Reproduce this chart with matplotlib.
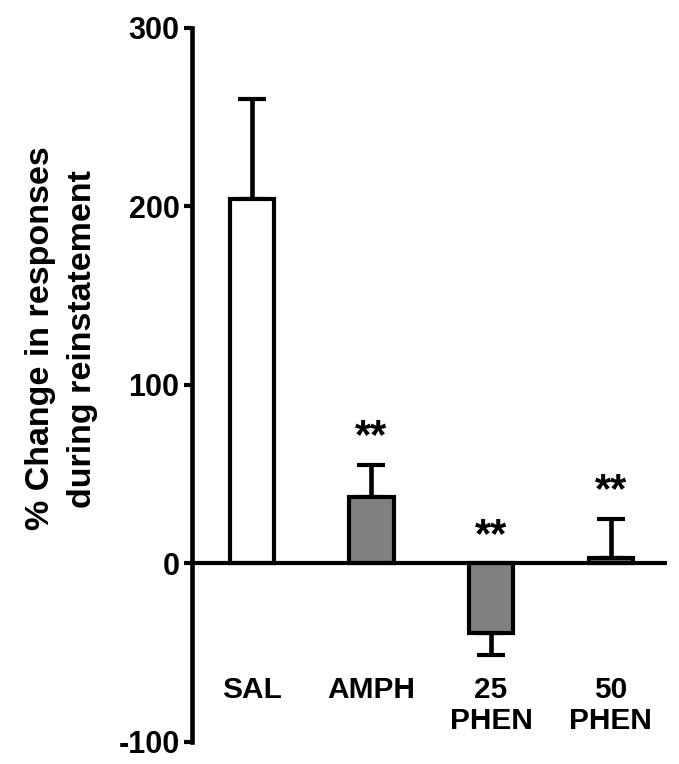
import numpy as np
import matplotlib
matplotlib.use('Agg')
import matplotlib.pyplot as plt

plt.rcParams['font.family'] = ['Liberation Sans', 'DejaVu Sans']
plt.rcParams['font.weight'] = 'bold'
plt.rcParams['axes.unicode_minus'] = False

groups = ['SAL', 'AMPH', '25\nPHEN', '50\nPHEN']
means = [204, 37, -39, 3]
sems = [56, 18, 12, 22]
colors = ['white', '#808080', '#808080', '#808080']
stars = ['', '**', '**', '**']

fig = plt.figure(figsize=(6.79, 7.64), dpi=100)
ax = fig.add_axes([0.2828, 0.0288, 0.6995, 0.9346])

x = np.arange(len(groups))
ax.bar(x, means, width=0.37, color=colors, edgecolor='black', linewidth=3, zorder=2)

# error bars only away from zero
lower = [0 if m >= 0 else s for m, s in zip(means, sems)]
upper = [s if m >= 0 else 0 for m, s in zip(means, sems)]
ax.errorbar(x, means, yerr=[lower, upper], fmt='none', ecolor='black',
            elinewidth=3.3, capsize=10, capthick=3, zorder=1)

for i in range(len(groups)):
    if stars[i]:
        top = means[i] + sems[i] if means[i] >= 0 else 0
        ax.annotate(stars[i], (x[i], top), xytext=(0, 20), textcoords='offset points',
                    ha='center', va='center', fontsize=30, fontweight='bold')
    ax.text(x[i], -63, groups[i], ha='center', va='top', fontsize=21.5,
            fontweight='bold', linespacing=1.15)

ax.axhline(0, color='black', linewidth=3, zorder=3)

ax.set_xlim(-0.5, 3.47)
ax.set_ylim(-100, 300)
ax.set_yticks([-100, 0, 100, 200, 300])
ax.set_xticks([])
ax.tick_params(axis='y', length=6, width=3, pad=3, labelsize=22)
for lab in ax.get_yticklabels():
    lab.set_fontweight('bold')

for s in ['top', 'right', 'bottom']:
    ax.spines[s].set_visible(False)
ax.spines['left'].set_linewidth(3.3)

ax.set_ylabel('% Change in responses\nduring reinstatement', fontsize=24.5,
              fontweight='bold', linespacing=1.45)
ax.yaxis.set_label_coords(-0.198, 0.565)

fig.savefig('out.png', dpi=100)
